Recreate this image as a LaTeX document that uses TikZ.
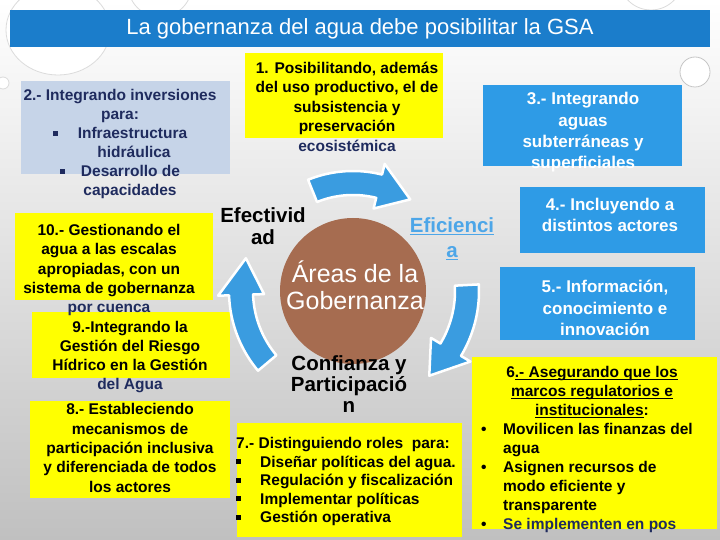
\documentclass[tikz,border=0pt]{standalone}
\usepackage{fontspec}
\setmainfont{Liberation Sans}
\definecolor{titleblue}{RGB}{27,125,203}
\definecolor{boxblue}{RGB}{46,155,230}
\definecolor{boxyellow}{RGB}{255,255,0}
\definecolor{boxgrey}{RGB}{198,212,232}
\definecolor{navy}{RGB}{31,43,94}
\definecolor{circbrown}{RGB}{166,108,80}
\definecolor{arrowblue}{RGB}{58,156,224}
\definecolor{efblue}{RGB}{77,166,232}
\definecolor{bgbottom}{RGB}{192,192,192}
\newcommand\sqb{\rule[0.18em]{0.32em}{0.32em}}
\newcommand\uln[1]{\setbox0\hbox{#1}\rlap{\rule[-2.6pt]{\wd0}{1pt}}\box0}
\newcommand\blockarc[6]{%
 \filldraw[arr] plot[domain=#2:#3, samples=30] ({353+(#1+#5)*cos(\x)},{291+(#1+#5)*sin(\x)})
  -- ({353+(#1+#6)*cos(#3)},{291+(#1+#6)*sin(#3)})
  -- ({353+#1*cos(#4)},{291+#1*sin(#4)})
  -- ({353+(#1-#6)*cos(#3)},{291+(#1-#6)*sin(#3)})
  -- plot[domain=#3:#2, samples=30] ({353+(#1-#5)*cos(\x)},{291+(#1-#5)*sin(\x)})
  -- cycle;}
\tikzset{
 ybox/.style={fill=boxyellow, draw=none, inner sep=0, anchor=north west},
 bbox/.style={fill=boxblue, draw=none, inner sep=0, anchor=north west},
 gbox/.style={fill=boxgrey, draw=none, inner sep=0, anchor=north west},
 txt/.style={inner sep=0, align=center, font=\fontsize{15.5}{19.3}\selectfont\bfseries},
 wtxt/.style={inner sep=0, align=center, text=white, font=\fontsize{17}{21.3}\selectfont\bfseries},
 lbl/.style={inner sep=0, align=center, font=\fontsize{20.5}{22}\selectfont\bfseries},
 arr/.style={fill=arrowblue, draw=white, line width=2.5pt, line join=round},
 bubble/.style={fill=white, draw=gray!28, line width=0.8pt},
}
\begin{document}
\begin{tikzpicture}[x=1pt, y=-1pt]
\useasboundingbox (0,0) rectangle (720,540);
\clip (0,0) rectangle (720,540);
\shade[top color=white, bottom color=bgbottom] (0,0) rectangle (720,540);
% decorative bubbles
\draw[bubble] (58,30) ellipse[x radius=52, y radius=45];
\draw[bubble] (160,-15) circle[radius=32];
\draw[bubble] (651,-22) circle[radius=32];
\draw[bubble, draw=gray!45] (695,72) circle[radius=15];
\draw[bubble] (3,83) circle[radius=6];
% title
\node[fill=titleblue, inner sep=0, anchor=north west, minimum width=700pt, minimum height=37pt] (title) at (10,10) {};
\node[text=white, inner sep=0, font=\fontsize{22}{24}\selectfont] (titletxt) at (360,29) {La gobernanza del agua debe posibilitar la GSA};
% boxes
\node[gbox, minimum width=209pt, minimum height=93pt] (b2) at (21,81) {};
\node[ybox, minimum width=198pt, minimum height=85pt] (b1) at (245,53) {};
\node[bbox, minimum width=199pt, minimum height=81pt] (b3) at (483,85) {};
\node[bbox, minimum width=185pt, minimum height=66pt] (b4) at (520,187) {};
\node[bbox, minimum width=195pt, minimum height=73pt] (b5) at (500,267) {};
\node[ybox, minimum width=198pt, minimum height=87pt] (b10) at (15,213) {};
\node[ybox, minimum width=198pt, minimum height=66pt] (b9) at (32,312) {};
\node[ybox, minimum width=200pt, minimum height=97pt] (b8) at (30,401) {};
\node[ybox, minimum width=225pt, minimum height=114pt] (b7) at (237,423) {};
\node[ybox, minimum width=245pt, minimum height=172pt] (b6) at (472,357) {};
% arrows
\blockarc{108}{-112}{-76}{-58}{12}{23}
\blockarc{114}{-3}{31}{48}{12}{23}
\blockarc{112}{140}{178}{197}{12}{23}
% circle
\node[circle, fill=circbrown, minimum size=146pt, inner sep=0] (circ) at (353,291) {};
\node[text=white, inner sep=0, align=center, font=\fontsize{25}{27}\selectfont] (circtxt) at (355,285) {Áreas de la\\Gobernanza};
% labels
\node[lbl] (efec) at (263,226) {Efectivid\\ad};
\node[lbl, text=efblue, font=\fontsize{20.5}{24.5}\selectfont\bfseries] (efic) at (452,239) {\uln{Eficienci}\\\uln{a}};
\node[lbl, font=\fontsize{20.5}{21}\selectfont\bfseries] (conf) at (349,384.5) {Confianza y\\Participació\\n};
% texts
\node[txt, text=navy, font=\fontsize{15.5}{19}\selectfont\bfseries] (t2) at (120,144) {2.- Integrando inversiones\\para:\\\sqb\hspace{20pt}Infraestructura\\\hspace*{28pt}hidráulica\\\sqb\hspace{16pt}Desarrollo de\\\hspace*{20pt}capacidades};
\node[txt, font=\fontsize{15.5}{19.5}\selectfont\bfseries] (t1) at (347,106.5) {1. Posibilitando, además\\del uso productivo, el de\\subsistencia y\\preservación\\\textcolor{navy}{ecosistémica}};
\node[wtxt] (t3) at (583,132.5) {3.- Integrando\\aguas\\subterráneas y\\superficiales};
\node[wtxt] (t4) at (610,215) {4.- Incluyendo a\\distintos actores};
\node[wtxt] (t5) at (605,308) {5.- Información,\\conocimiento e\\innovación};
\node[txt] (t10) at (109,270) {10.- Gestionando el\\agua a las escalas\\apropiadas, con un\\sistema de gobernanza\\\textcolor{navy}{por cuenca}};
\node[txt, font=\fontsize{15.5}{19}\selectfont\bfseries] (t9) at (130,357) {9.-Integrando la\\Gestión del Riesgo\\Hídrico en la Gestión\\\textcolor{navy}{del Agua}};
\node[txt] (t8) at (130,448) {8.- Estableciendo\\mecanismos de\\participación inclusiva\\y diferenciada de todos\\los actores};
\node[txt, align=left, anchor=west, font=\fontsize{15.5}{18.5}\selectfont\bfseries] (t7) at (236,481.5) {7.- Distinguiendo roles\ \ para:\\\makebox[24pt][l]{\sqb}Diseñar políticas del agua.\\\makebox[24pt][l]{\sqb}Regulación y fiscalización\\\makebox[24pt][l]{\sqb}Implementar políticas\\\makebox[24pt][l]{\sqb}Gestión operativa};
\node[txt, font=\fontsize{15.5}{19}\selectfont\bfseries] (t6a) at (592,392.5) {6\uln{.- Asegurando que los}\\\uln{marcos regulatorios e}\\\uln{institucionales}:};
\node[txt, align=left, anchor=west, font=\fontsize{15.5}{19}\selectfont\bfseries] (t6b) at (481,478) {\makebox[22pt][l]{\textbullet}Movilicen las finanzas del\\\hspace*{22pt}agua\\\makebox[22pt][l]{\textbullet}Asignen recursos de\\\hspace*{22pt}modo eficiente y\\\hspace*{22pt}transparente\\\makebox[22pt][l]{\textbullet}\textcolor{navy}{Se implementen en pos}};
\end{tikzpicture}
\end{document}
